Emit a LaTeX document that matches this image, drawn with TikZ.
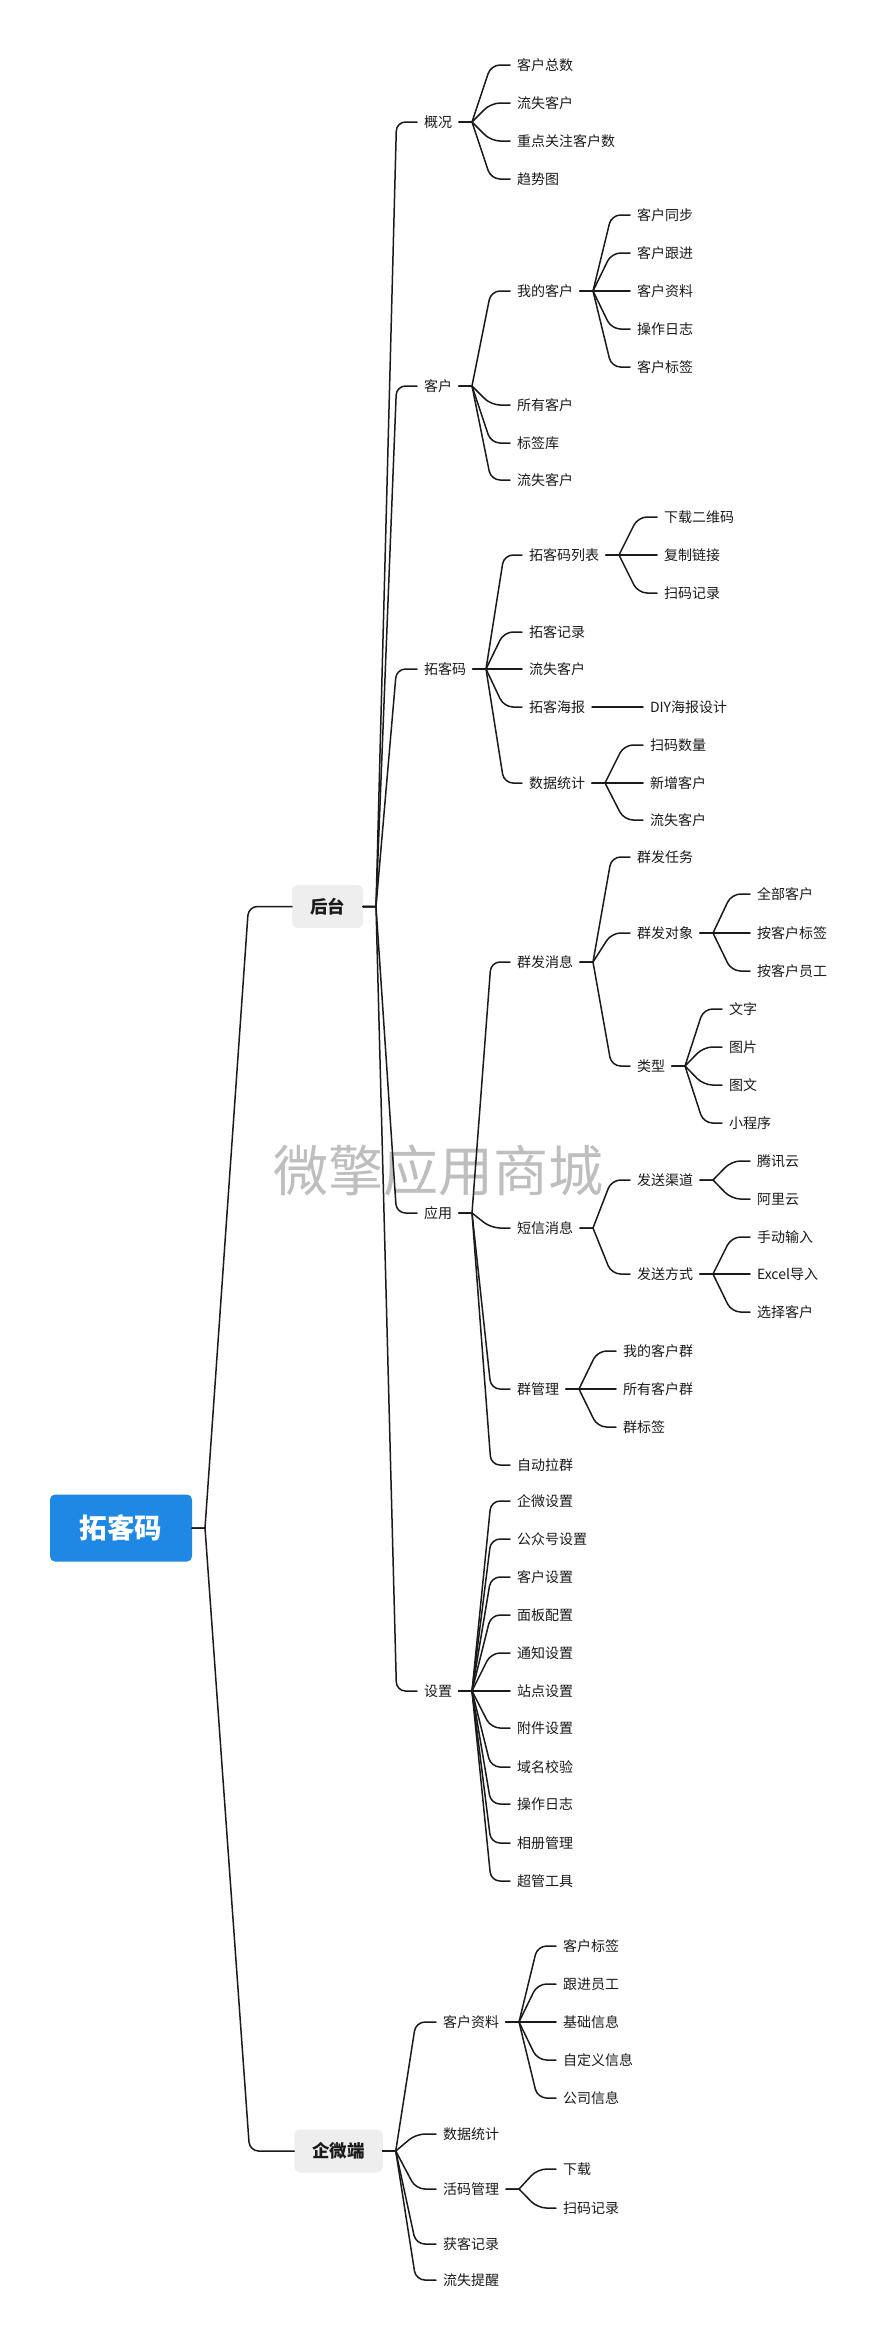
\documentclass[tikz,border=0pt]{standalone}
\usepackage{fontspec}
\usepackage{tikz}
\usetikzlibrary{calc}
\newfontfamily\cjk{Noto Sans CJK SC}
\definecolor{rootBlue}{RGB}{31,136,229}
\definecolor{boxGray}{RGB}{238,238,238}
\definecolor{inkGray}{RGB}{26,26,26}
\definecolor{markGray}{RGB}{190,190,190}

\tikzset{
  topic/.style={anchor=west, inner sep=0pt, outer xsep=7pt, outer ysep=0pt, text=inkGray, font=\cjk\fontsize{14}{14}\selectfont},
  mainbox/.style={fill=boxGray, rounded corners=6pt, inner xsep=18pt, inner ysep=0pt, outer sep=0pt, minimum height=43pt, text=inkGray, font=\cjk\bfseries\fontsize{17.5}{17.5}\selectfont},
  rootbox/.style={fill=rootBlue, rounded corners=5pt, inner sep=0pt, outer sep=0pt, minimum width=142pt, minimum height=67pt, text=white, font=\cjk\bfseries\fontsize{27.5}{27.5}\selectfont},
  branch/.style={draw=inkGray, line width=1.5pt, line cap=round}
}

\begin{document}
\begin{tikzpicture}[x=1pt, y=-1pt]

  \useasboundingbox (0,0) rectangle (880,2345);

  % watermark behind everything
  \node[text=markGray, font=\cjk\fontsize{55}{55}\selectfont, inner sep=0pt] (mark) at (438,1171) {微擎应用商城};

  % draw the boxes
  \node[rootbox] (root) at (121,1528) {拓客码};
  \node[mainbox] (backend) at (327.5,906.5) {后台};
  \node[mainbox] (wecom) at (338.5,2151) {企微端};

  % draw the topics
  \foreach \n/\px/\py/\t in {
      overview/417/122/概况, customer/417/386/客户, tkCode/417/669/拓客码,
      apps/417/1213/应用, settings/417/1691/设置,
      ovTotal/510/65/客户总数, ovLost/510/103/流失客户, ovFocus/510/141/重点关注客户数, ovTrend/510/179/趋势图,
      myCust/510/291/我的客户, allCust/510/405/所有客户, tagLib/510/443/标签库, custLost/510/480/流失客户,
      mcSync/630/215/客户同步, mcFollow/630/253/客户跟进, mcInfo/630/291/客户资料, mcLog/630/329/操作日志, mcTag/630/367/客户标签,
      codeList/522/555/拓客码列表, tkRecord/522/632/拓客记录, tkLost/522/669/流失客户, poster/522/707/拓客海报, tkStats/522/783/数据统计,
      clDownload/657/517/下载二维码, clCopy/657/555/复制链接, clScan/657/593/扫码记录,
      posterDiy/643/707/DIY海报设计,
      stScan/643/745/扫码数量, stNew/643/783/新增客户, stLost/643/820/流失客户,
      massMsg/510/962/群发消息, smsMsg/510/1228/短信消息, groupMgr/510/1389/群管理, autoGroup/510/1465/自动拉群,
      mmTask/630/857/群发任务, mmTarget/630/933/群发对象, mmType/630/1066/类型,
      tgAll/750/894/全部客户, tgTag/750/933/按客户标签, tgStaff/750/971/按客户员工,
      tyText/722/1009/文字, tyImage/722/1047/图片, tyRich/722/1085/图文, tyMini/722/1123/小程序,
      smsChannel/630/1180/发送渠道, smsMode/630/1274/发送方式,
      chTencent/750/1161/腾讯云, chAliyun/750/1199/阿里云,
      mdManual/750/1237/手动输入, mdExcel/750/1274/Excel导入, mdSelect/750/1312/选择客户,
      gmMine/616/1351/我的客户群, gmAll/616/1389/所有客户群, gmTag/616/1427/群标签,
      setWecom/510/1501/企微设置, setMp/510/1539/公众号设置, setCust/510/1577/客户设置, setPanel/510/1615/面板配置,
      setNotice/510/1653/通知设置, setSite/510/1691/站点设置, setAttach/510/1728/附件设置, setDomain/510/1767/域名校验,
      setLog/510/1804/操作日志, setAlbum/510/1843/相册管理, setAdmin/510/1881/超管工具,
      wcProfile/436/2022/客户资料, wcStats/436/2134/数据统计, wcCode/436/2189/活码管理, wcRecord/436/2244/获客记录, wcRemind/436/2280/流失提醒,
      pfTag/556/1946/客户标签, pfStaff/556/1984/跟进员工, pfBase/556/2022/基础信息, pfCustom/556/2060/自定义信息, pfCompany/556/2098/公司信息,
      cdDownload/556/2169/下载, cdScan/556/2208/扫码记录}
    \node[topic] (\n) at (\px,\py) {\t};

  % draw the branches
  \foreach \a/\b in {
      root/backend, root/wecom,
      backend/overview, backend/customer, backend/tkCode, backend/apps, backend/settings,
      overview/ovTotal, overview/ovLost, overview/ovFocus, overview/ovTrend,
      customer/myCust, customer/allCust, customer/tagLib, customer/custLost,
      myCust/mcSync, myCust/mcFollow, myCust/mcInfo, myCust/mcLog, myCust/mcTag,
      tkCode/codeList, tkCode/tkRecord, tkCode/tkLost, tkCode/poster, tkCode/tkStats,
      codeList/clDownload, codeList/clCopy, codeList/clScan,
      poster/posterDiy,
      tkStats/stScan, tkStats/stNew, tkStats/stLost,
      apps/massMsg, apps/smsMsg, apps/groupMgr, apps/autoGroup,
      massMsg/mmTask, massMsg/mmTarget, massMsg/mmType,
      mmTarget/tgAll, mmTarget/tgTag, mmTarget/tgStaff,
      mmType/tyText, mmType/tyImage, mmType/tyRich, mmType/tyMini,
      smsMsg/smsChannel, smsMsg/smsMode,
      smsChannel/chTencent, smsChannel/chAliyun,
      smsMode/mdManual, smsMode/mdExcel, smsMode/mdSelect,
      groupMgr/gmMine, groupMgr/gmAll, groupMgr/gmTag,
      settings/setWecom, settings/setMp, settings/setCust, settings/setPanel, settings/setNotice, settings/setSite,
      settings/setAttach, settings/setDomain, settings/setLog, settings/setAlbum, settings/setAdmin,
      wecom/wcProfile, wecom/wcStats, wecom/wcCode, wecom/wcRecord, wecom/wcRemind,
      wcProfile/pfTag, wcProfile/pfStaff, wcProfile/pfBase, wcProfile/pfCustom, wcProfile/pfCompany,
      wcCode/cdDownload, wcCode/cdScan}
    \draw[branch] let \p1=(\a.east), \p2=(\b.west) in
      (\p1) -- ++(13pt,0pt) [rounded corners=9pt] ({\x1+13pt},\y1) -- ({(\x1+13pt+\x2)/2},\y2) -- (\p2);

\end{tikzpicture}
\end{document}
